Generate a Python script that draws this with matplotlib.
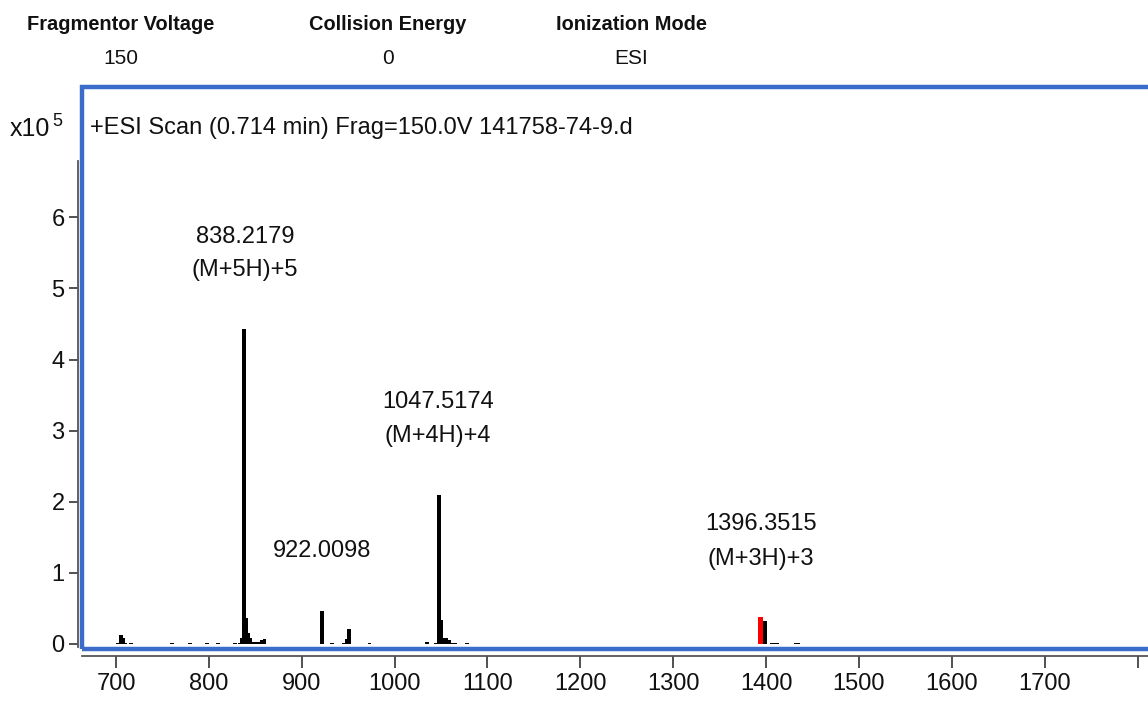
import matplotlib
matplotlib.use("Agg")
import matplotlib.pyplot as plt
from matplotlib.patches import Rectangle

# ---------------- data (intensity in units of 1e5 counts) ----------------
mz = [702, 705, 707.5, 710, 716, 760, 780, 798, 810, 828,
      833, 835.5, 838.2, 840.5, 842.5, 844.5, 847, 850, 853, 857, 860,
      922.0, 932.5, 945.5, 948.5, 951, 973,
      1035, 1044, 1047.5, 1050.5, 1053, 1056, 1059, 1062, 1065, 1078,
      1398.5, 1406, 1409, 1412, 1432, 1435]
intensity = [0.02, 0.13, 0.09, 0.02, 0.02, 0.02, 0.02, 0.02, 0.02, 0.02,
             0.02, 0.08, 4.43, 0.37, 0.15, 0.08, 0.03, 0.03, 0.03, 0.05, 0.07,
             0.46, 0.02, 0.02, 0.07, 0.21, 0.02,
             0.03, 0.02, 2.10, 0.34, 0.08, 0.08, 0.06, 0.02, 0.02, 0.02,
             0.33, 0.02, 0.02, 0.02, 0.02, 0.02]
red_mz = [1394.0]
red_intensity = [0.375]

labels = [("838.2179", 838.9, 5.72), ("(M+5H)+5", 838.9, 5.26),
          ("922.0098", 921.8, 1.31),
          ("1047.5174", 1046.7, 3.40), ("(M+4H)+4", 1046.7, 2.93),
          ("1396.3515", 1394.5, 1.69), ("(M+3H)+3", 1394.5, 1.20)]

xticks = [700, 800, 900, 1000, 1100, 1200, 1300, 1400, 1500, 1600, 1700, 1800]
xticklabels = ["700", "800", "900", "1000", "1100", "1200", "1300", "1400",
               "1500", "1600", "1700", ""]
yticks = [0, 1, 2, 3, 4, 5, 6]

header_titles = ["Fragmentor Voltage", "Collision Energy", "Ionization Mode"]
header_values = ["150", "0", "ESI"]
header_x = [121, 388, 631]

scan_title = "+ESI Scan (0.714 min) Frag=150.0V 141758-74-9.d"

plt.rcParams["font.family"] = ["Liberation Sans", "DejaVu Sans"]

W, H = 1148, 701
fig = plt.figure(figsize=(W / 100, H / 100), dpi=100)
fig.patch.set_facecolor("white")

def fx(px):
    return px / W

def fy(py):
    return 1 - py / H

left_px, right_px, top_px, bot_px = 82, 1152, 87.5, 649
ax = fig.add_axes([fx(left_px), fy(bot_px), (right_px - left_px) / W,
                   (bot_px - top_px) / H])

zero_px = 644.0
ppu = 71.1       # pixels per 1e5 counts
ppx = 0.9287     # pixels per m/z unit
ax.set_ylim(-(bot_px - zero_px) / ppu, (zero_px - top_px) / ppu)
ax.set_xlim(700 + (left_px - 116) / ppx, 700 + (right_px - 116) / ppx)

ax.bar(mz, intensity, width=4.0, color="black", linewidth=0, zorder=2)
ax.bar(red_mz, red_intensity, width=6.0, color="#ff0000", linewidth=0, zorder=2)

for txt, x, y in labels:
    ax.text(x, y, txt, ha="center", va="center", fontsize=17,
            color="#111111", zorder=3)

# blue frame
ax.add_patch(Rectangle((0, 0), 1, 1, transform=ax.transAxes, fill=False,
                       edgecolor="#3b6cca", linewidth=3.2, clip_on=False,
                       zorder=5))

for s in ["top", "right"]:
    ax.spines[s].set_visible(False)
ax.spines["left"].set_position(("outward", 3))
ax.spines["bottom"].set_position(("outward", 5))
for s in ["left", "bottom"]:
    ax.spines[s].set_color("#555555")
    ax.spines[s].set_linewidth(1.3)
ax.spines["left"].set_bounds(-0.04, 6.8)

ax.set_xticks(xticks)
ax.set_xticklabels(xticklabels)
ax.set_yticks(yticks)
ax.tick_params(axis="x", length=8.5, width=1.2, color="#333333", pad=4,
               labelsize=17, labelcolor="#111111")
ax.tick_params(axis="y", length=6.5, width=1.2, color="#333333", pad=3,
               labelsize=17, labelcolor="#111111")

# header
for t, v, x in zip(header_titles, header_values, header_x):
    fig.text(fx(x), fy(25), t, ha="center", va="center",
             fontsize=14.4, fontweight="bold", color="#111111")
    fig.text(fx(x), fy(58), v, ha="center", va="center",
             fontsize=15, color="#111111")

fig.text(fx(10), fy(129), "x10", ha="left", va="center", fontsize=18,
         color="#111111")
fig.text(fx(52), fy(121), "5", ha="left", va="center", fontsize=13,
         color="#111111")
fig.text(fx(90), fy(128), scan_title, ha="left", va="center",
         fontsize=17, color="#111111")

fig.savefig("out.png", dpi=100, facecolor="white")
